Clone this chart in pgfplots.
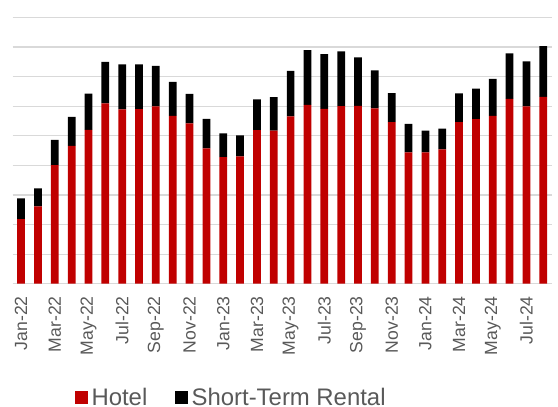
\documentclass[border=0pt]{standalone}
\usepackage{pgfplots}
\pgfplotsset{compat=1.18}
\usepackage{pgfplotstable}
\usepackage{fontspec}
\setmainfont{Liberation Sans}
\definecolor{hotelred}{HTML}{C00000}
\definecolor{txtgray}{HTML}{595959}
\definecolor{gridgray}{HTML}{D9D9D9}
\pgfplotstableread{
x hotel str
0 2.18 0.70
1 2.61 0.61
2 4.01 0.85
3 4.66 0.98
4 5.20 1.22
5 6.09 1.40
6 5.89 1.52
7 5.90 1.51
8 5.99 1.37
9 5.67 1.15
10 5.42 0.99
11 4.57 1.00
12 4.28 0.80
13 4.30 0.71
14 5.19 1.04
15 5.17 1.13
16 5.65 1.54
17 6.04 1.85
18 5.91 1.85
19 6.00 1.85
20 6.01 1.64
21 5.92 1.29
22 5.46 0.98
23 4.44 0.96
24 4.44 0.73
25 4.54 0.70
26 5.46 0.97
27 5.56 1.03
28 5.67 1.25
29 6.24 1.54
30 5.99 1.52
31 6.31 1.72
}\datatable
\begin{document}
\begin{tikzpicture}
\path[use as bounding box] (-12.7bp,-123.3bp) rectangle (545.3bp,283.7bp);
\begin{axis}[
  at={(0,0)}, anchor=south west,
  scale only axis,
  width=539bp, height=266.4bp,
  ybar stacked,
  bar width=0.46,
  xmin=-0.5, xmax=31.5,
  ymin=0, ymax=9,
  ytick={0,1,...,9},
  yticklabels={},
  ymajorgrids,
  grid style={gridgray, line width=1.2bp},
  axis x line*=bottom,
  axis y line*=left,
  y axis line style={draw=none},
  x axis line style={draw=gridgray, line width=1.2bp, -},
  ytick style={draw=none},
  xtick={0,2,...,30},
  xticklabels={Jan-22,Mar-22,May-22,Jul-22,Sep-22,Nov-22,Jan-23,Mar-23,May-23,Jul-23,Sep-23,Nov-23,Jan-24,Mar-24,May-24,Jul-24},
  xtick style={draw=none},
  xticklabel shift=9bp,
  xticklabel style={rotate=90, anchor=east, font=\fontsize{17.7}{20}\selectfont, text=txtgray},
  extra x ticks={-0.5,1.5,...,31.5},
  extra x tick labels={},
  extra x tick style={tick style={draw=gridgray, line width=1.2bp}, major tick length=6bp, tick align=outside},
  legend columns=2,
  legend style={draw=none, fill=none, inner sep=0pt, at={(0.1156,-0.4272)}, anchor=west,
    font=\fontsize{24}{27}\selectfont, text=txtgray,
    nodes={inner sep=2bp},
    /tikz/every odd column/.append style={column sep=2bp},
    /tikz/every even column/.append style={column sep=26bp}},
  legend image code/.code={\fill[#1] (0bp,-6.2bp) rectangle (12.3bp,6.2bp);},
  clip=false,
]
\addplot[fill=hotelred, draw=none] table[x=x, y=hotel] {\datatable};
\addplot[fill=black, draw=none] table[x=x, y=str] {\datatable};
\legend{Hotel, Short-Term Rental}
\end{axis}
\end{tikzpicture}
\end{document}
